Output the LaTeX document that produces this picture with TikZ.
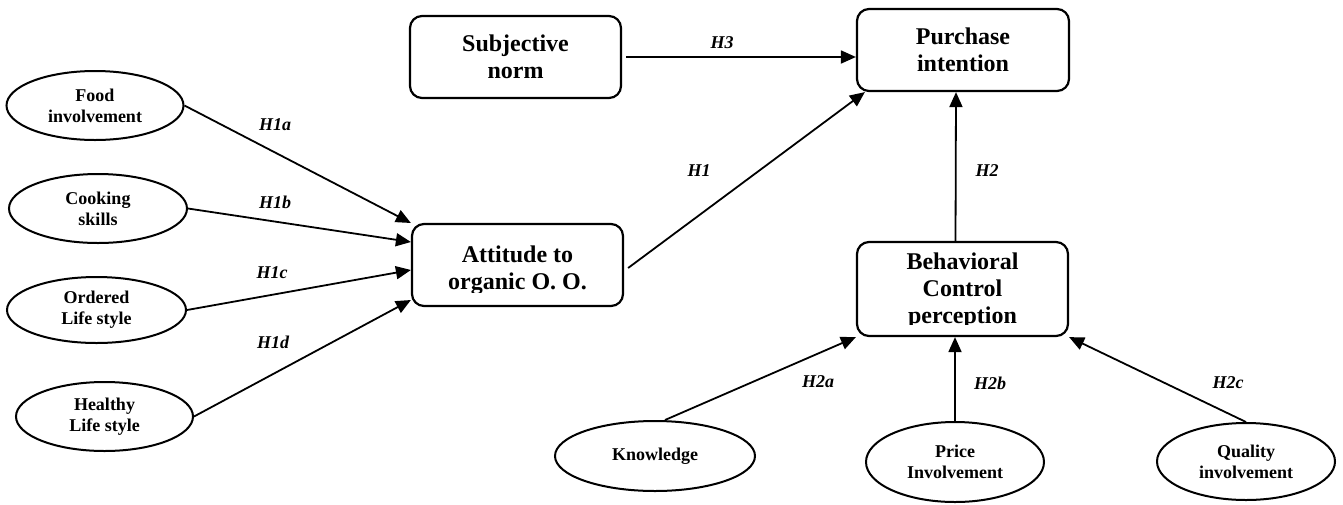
\documentclass[tikz,border=0pt]{standalone}
\usepackage{fontspec}
\setmainfont{Liberation Serif}
\usetikzlibrary{arrows.meta,shapes.geometric}
\begin{document}
\begin{tikzpicture}[x=1pt,y=-1pt,
  box/.style={draw,line width=2.2pt,rounded corners=12pt,minimum width=211pt,minimum height=82pt,inner sep=0pt,align=center,font=\fontsize{24}{27}\selectfont\bfseries},
  boxtext/.style={inner sep=0pt,align=center,font=\fontsize{24}{27}\selectfont\bfseries},
  oval/.style={draw,ellipse,line width=2pt,inner sep=0pt,align=center,font=\fontsize{18}{21}\selectfont\bfseries},
  arr/.style={line width=1.8pt,-{Triangle[length=15pt,width=13pt]}},
  hyp/.style={inner sep=0pt,font=\fontsize{18}{21}\selectfont\bfseries\itshape}]
\useasboundingbox (0,0) rectangle (1343,504);

% boxes
\node[box] (subj) at (515.5,57) {Subjective\\norm};
\node[box,minimum width=212pt] (pur) at (963,50) {Purchase\\intention};
\node[box] (att) at (517.5,265) {};
\node[box,minimum height=94pt] (beh) at (962.5,289) {};
\begin{scope}
  \clip (414,226) rectangle (621,292);
  \node[boxtext] (atttext) at (517.5,270) {Attitude to\\organic O. O.};
\end{scope}
\begin{scope}
  \clip (859,244) rectangle (1066,324);
  \node[boxtext] (behtext) at (962.5,290.5) {Behavioral\\Control\\perception};
\end{scope}

% ellipses
\node[oval,minimum width=177pt,minimum height=69pt] (food) at (95,105.5) {Food\\involvement};
\node[oval,minimum width=178pt,minimum height=69pt] (cook) at (98,208.5) {Cooking\\skills};
\node[oval,minimum width=179pt,minimum height=66pt] (ord) at (96.5,310) {Ordered\\Life style};
\node[oval,minimum width=177pt,minimum height=69pt] (heal) at (104.5,416.5) {Healthy\\Life style};
\node[oval,minimum width=200pt,minimum height=70pt] (know) at (655,456) {Knowledge};
\node[oval,minimum width=178pt,minimum height=80pt] (price) at (955,462) {Price\\Involvement};
\node[oval,minimum width=178pt,minimum height=77pt] (qual) at (1246,461.5) {Quality\\involvement};

% arrows
\draw[arr] (food.east) -- ([yshift=42pt]att.west);
\draw[arr] (cook.east) -- ([yshift=23pt]att.west);
\draw[arr] (ord.east) -- ([yshift=-5pt]att.west);
\draw[arr] (heal.east) -- ([yshift=-35pt]att.west);
\draw[arr] ([xshift=4pt,yshift=-3pt]att.east) -- ([xshift=9pt]pur.south west);
\draw[arr] ([xshift=4pt]subj.east) -- (subj.east -| pur.west);
\draw[arr] ([xshift=-7pt]beh.north) -- ([xshift=-7pt]pur.south);
\draw[arr] ([xshift=10pt]know.north) -- (beh.south west);
\draw[arr] (price.north) -- (price.north |- beh.south);
\draw[arr] (qual.north) -- (beh.south east);

% labels
\node[hyp] (h1a) at (275,125) {H1a};
\node[hyp] (h1b) at (275,202) {H1b};
\node[hyp] (h1c) at (272,273) {H1c};
\node[hyp] (h1d) at (273,342) {H1d};
\node[hyp] (h3) at (722,43) {H3};
\node[hyp] (h1) at (699,171) {H1};
\node[hyp] (h2) at (987,171) {H2};
\node[hyp] (h2a) at (818,382) {H2a};
\node[hyp] (h2b) at (990,383) {H2b};
\node[hyp] (h2c) at (1228,383) {H2c};
\end{tikzpicture}
\end{document}
